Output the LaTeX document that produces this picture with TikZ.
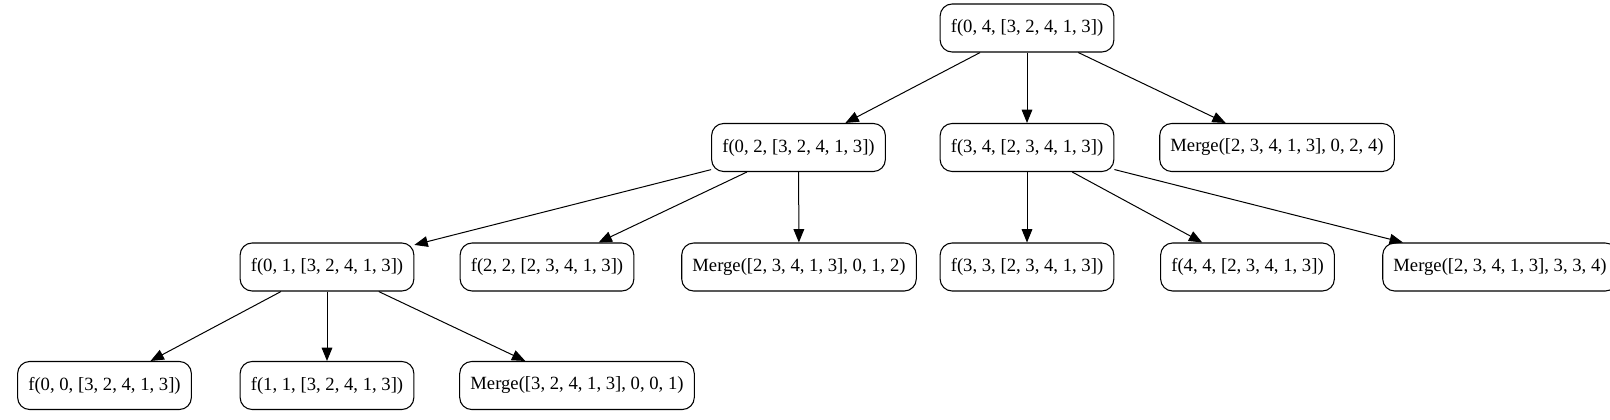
\documentclass[tikz,border=0pt]{standalone}
\usepackage{fontspec}
\setmainfont{Liberation Serif}
\usepackage{tikz}
\usetikzlibrary{positioning, arrows.meta}

\begin{document}
\begin{tikzpicture}[
  x=0.75pt, y=-0.75pt,
  call/.style={draw, rounded corners=9pt, line width=0.8pt, inner xsep=8pt,
               minimum height=36pt, font=\fontsize{14}{16}\selectfont},
  edge/.style={line width=0.75pt, -{Triangle[length=10pt,width=8pt]}}
]
  \useasboundingbox (0,0) rectangle (1610,419);

  % rank 0
  \node[call] (r) at (1027,28) {f(0, 4, [3, 2, 4, 1, 3])};

  % rank 1
  \node[call] (a) at (798.5,147.5) {f(0, 2, [3, 2, 4, 1, 3])};
  \node[call] (b) at (1027,147.5) {f(3, 4, [2, 3, 4, 1, 3])};
  \node[call] (mb) at (1277,147.5) {Merge([2, 3, 4, 1, 3], 0, 2, 4)};

  % rank 2
  \node[call] (aa) at (327,267) {f(0, 1, [3, 2, 4, 1, 3])};
  \node[call] (ab) at (547,267) {f(2, 2, [2, 3, 4, 1, 3])};
  \node[call] (ma) at (799,267) {Merge([2, 3, 4, 1, 3], 0, 1, 2)};
  \node[call] (ba) at (1027,267) {f(3, 3, [2, 3, 4, 1, 3])};
  \node[call] (bb) at (1247.5,267) {f(4, 4, [2, 3, 4, 1, 3])};
  \node[call] (mc) at (1500,267) {Merge([2, 3, 4, 1, 3], 3, 3, 4)};

  % rank 3
  \node[call] (aaa) at (104.5,385.5) {f(0, 0, [3, 2, 4, 1, 3])};
  \node[call] (aab) at (327,385.5) {f(1, 1, [3, 2, 4, 1, 3])};
  \node[call] (md) at (577,385.5) {Merge([3, 2, 4, 1, 3], 0, 0, 1)};

  \draw[edge] (r) -- (a);
  \draw[edge] (r) -- (b);
  \draw[edge] (r) -- (mb);

  \draw[edge] (a) -- (aa);
  \draw[edge] (a) -- (ab);
  \draw[edge] (a) -- (ma);

  \draw[edge] (b) -- (ba);
  \draw[edge] (b) -- (bb);
  \draw[edge] (b) -- (mc);

  \draw[edge] (aa) -- (aaa);
  \draw[edge] (aa) -- (aab);
  \draw[edge] (aa) -- (md);

\end{tikzpicture}
\end{document}
